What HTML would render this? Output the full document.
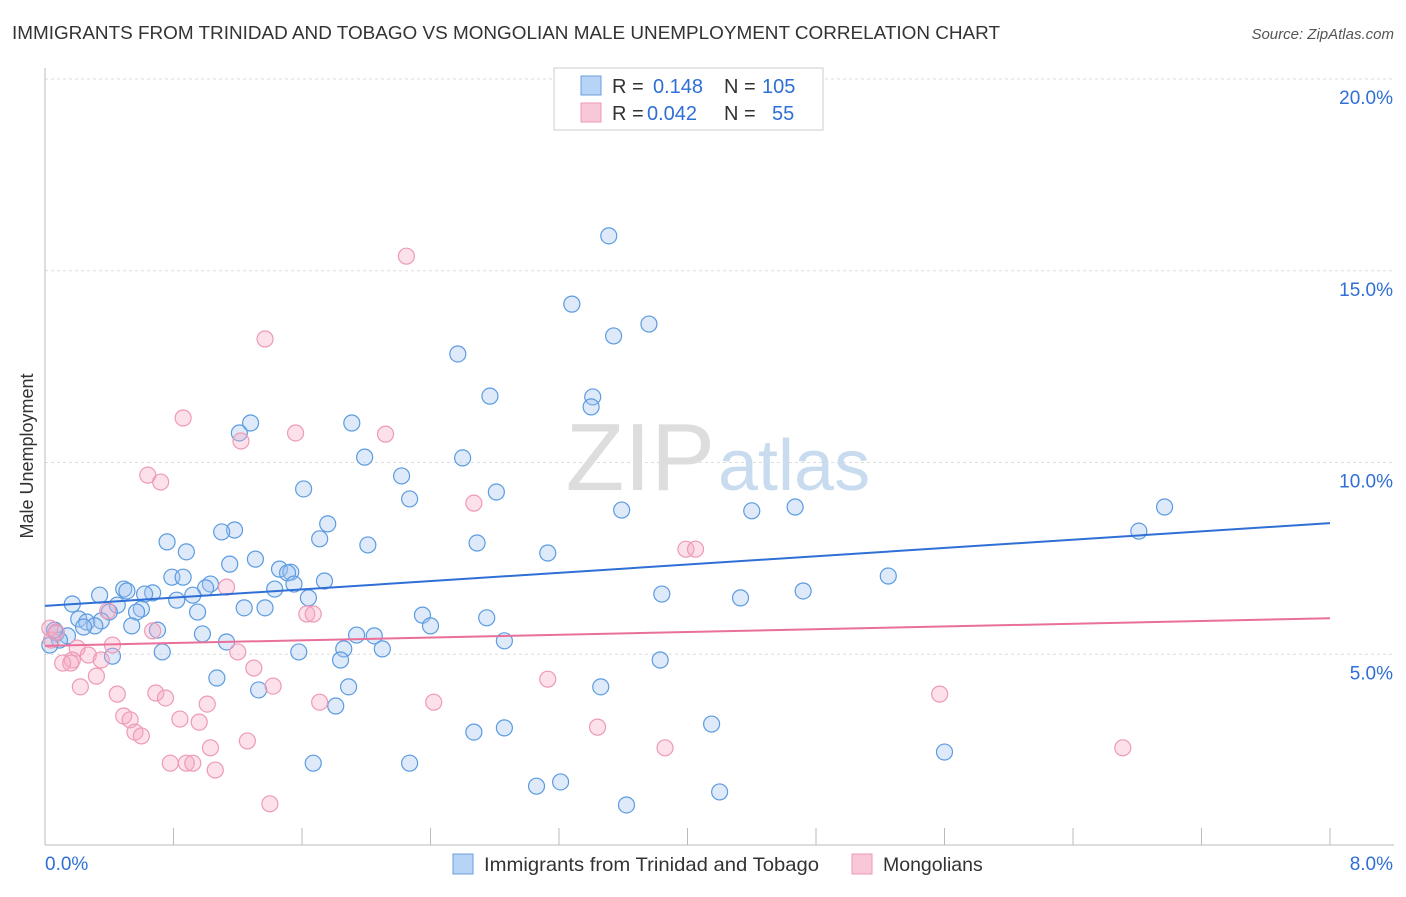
<!DOCTYPE html>
<html><head><meta charset="utf-8"><style>
body{margin:0;background:#fff;font-family:"Liberation Sans",sans-serif;}
svg text{font-family:"Liberation Sans",sans-serif;}
</style></head><body>
<svg id="chart" width="1406" height="892" xmlns="http://www.w3.org/2000/svg">
<text x="12" y="39" font-size="18.9" fill="#333" textLength="988" lengthAdjust="spacingAndGlyphs">IMMIGRANTS FROM TRINIDAD AND TOBAGO VS MONGOLIAN MALE UNEMPLOYMENT CORRELATION CHART</text>
<text x="1394" y="39" font-size="15" fill="#555" text-anchor="end" font-style="italic">Source: ZipAtlas.com</text>
<text transform="translate(33,456) rotate(-90)" font-size="18" fill="#333" text-anchor="middle">Male Unemployment</text>
<g id="grid"></g>
<text x="715" y="490" font-size="96" fill="#ddd" text-anchor="end" font-family="Liberation Serif">ZIP</text>
<text x="718" y="490" font-size="72" fill="#c9dcef">atlas</text>
<g id="points"></g>
<g id="lines"></g>
<g>
<rect x="554" y="68" width="269" height="62" fill="#fff" stroke="#ccc"/>
<rect x="581" y="76" width="20" height="19" fill="#b7d3f5" stroke="#6a9fe0"/>
<rect x="581" y="103" width="20" height="19" fill="#f9c8d8" stroke="#ee9ab5"/>
<text x="612" y="93" font-size="20" fill="#333">R = </text><text x="653" y="93" font-size="20" fill="#2f6fd6">0.148</text>
<text x="724" y="93" font-size="20" fill="#333">N = </text><text x="762" y="93" font-size="20" fill="#2f6fd6">105</text>
<text x="612" y="120" font-size="20" fill="#333">R = </text><text x="647" y="120" font-size="20" fill="#2f6fd6">0.042</text>
<text x="724" y="120" font-size="20" fill="#333">N = </text><text x="772" y="120" font-size="20" fill="#2f6fd6">55</text>
</g>
<g>
<rect x="453" y="854" width="20" height="20" fill="#b7d3f5" stroke="#6a9fe0"/>
<text x="484" y="871" font-size="19.5" fill="#333" textLength="335" lengthAdjust="spacingAndGlyphs">Immigrants from Trinidad and Tobago</text>
<rect x="852" y="854" width="20" height="20" fill="#f9c8d8" stroke="#ee9ab5"/>
<text x="883" y="871" font-size="19.5" fill="#333">Mongolians</text>
</g>
</svg>
<script>
const xTicks=[0,0.8,1.6,2.4,3.2,4,4.8,5.6,6.4,7.2,8];
const yTicks=[5,10,15,20];
const yTickLabels=["5.0%","10.0%","15.0%","20.0%"];
const xTickLabels=["0.0%","8.0%"];
const blueX=[3.51,3.28,3.54,3.76,2.57,2.77,3.41,3.40,1.91,1.28,1.21,1.99,2.60,2.22,1.61,2.81,2.27,3.59,4.40,4.67,6.97,6.81,1.76,1.18,1.10,0.76,1.71,2.69,2.01,0.88,3.13,1.31,1.15,1.46,1.53,0.79,0.86,1.51,1.74,1.55,1.03,1.00,0.49,0.51,0.67,0.62,0.34,0.92,1.43,1.64,5.25,3.84,4.33,4.72,0.17,0.45,0.60,0.57,0.40,1.24,1.37,0.95,0.82,2.35,2.75,2.40,0.21,0.26,0.35,0.31,0.54,0.24,0.70,0.98,1.94,2.05,0.14,0.07,0.09,1.13,2.86,1.86,2.10,0.73,0.42,1.58,1.84,3.83,1.07,3.46,1.33,1.89,1.81,4.15,2.67,2.86,1.67,2.27,5.60,3.06,3.21,4.20,3.62,0.06,0.03];
const blueY=[15.91,14.13,13.30,13.61,12.83,11.73,11.71,11.45,11.03,11.03,10.77,10.14,10.12,9.65,9.31,9.23,9.05,8.76,8.74,8.84,8.84,8.21,8.40,8.24,8.19,7.93,8.01,7.90,7.85,7.67,7.64,7.48,7.35,7.22,7.14,7.01,7.01,7.12,6.91,6.83,6.83,6.73,6.70,6.65,6.60,6.57,6.54,6.54,6.70,6.47,7.04,6.57,6.47,6.65,6.31,6.28,6.18,6.10,6.10,6.21,6.21,6.10,6.41,6.02,5.95,5.74,5.92,5.84,5.87,5.74,5.74,5.71,5.63,5.53,5.50,5.48,5.48,5.55,5.37,5.32,5.35,5.14,5.14,5.06,4.95,5.06,4.85,4.85,4.38,4.15,4.07,4.15,3.65,3.18,2.97,3.08,2.16,2.16,2.45,1.56,1.67,1.41,1.07,5.63,5.24];
const pinkX=[2.25,1.37,0.86,1.56,2.12,1.22,0.64,0.72,2.67,3.99,4.05,1.13,1.63,1.67,0.39,0.67,0.03,0.04,0.42,0.20,0.17,0.27,0.35,0.11,0.16,1.20,1.30,0.32,0.22,1.42,0.45,0.69,0.75,1.01,1.71,2.42,3.13,5.57,0.49,0.53,0.84,0.96,0.56,0.60,1.26,1.03,3.86,6.71,3.44,0.78,0.88,0.92,1.06,1.40,0.07];
const pinkY=[15.38,13.22,11.16,10.77,10.74,10.56,9.67,9.49,8.94,7.74,7.74,6.75,6.05,6.05,6.13,5.61,5.68,5.37,5.24,5.16,4.85,4.98,4.85,4.77,4.77,5.06,4.64,4.43,4.15,4.17,3.96,3.99,3.86,3.70,3.75,3.75,4.35,3.96,3.39,3.29,3.31,3.23,2.97,2.87,2.74,2.56,2.56,2.56,3.10,2.16,2.16,2.16,1.98,1.10,5.58];
const blueTrend=[6.26,8.42];
const pinkTrend=[5.22,5.94];
const NS="http://www.w3.org/2000/svg";
const sx=v=>45+v/8*1285;
const sy=v=>846-v*38.35;
function mk(tag,attrs,parent){const e=document.createElementNS(NS,tag);for(const k in attrs)e.setAttribute(k,attrs[k]);parent.appendChild(e);return e;}
const grid=document.getElementById('grid');
yTicks.forEach((t,i)=>{
  const l=mk('line',{x1:45,x2:1394,y1:sy(t),y2:sy(t),stroke:'#ddd','stroke-dasharray':'3,3'},grid);
  
  
  const tx=mk('text',{x:1393,y:sy(t)+25,'font-size':19,fill:'#2f6fd6','text-anchor':'end'},grid);
  tx.textContent=yTickLabels[i];
  
  
});
let a=mk('line',{x1:45,x2:45,y1:68,y2:845,stroke:'#bbb'},grid);


a=mk('line',{x1:45,x2:1394,y1:845,y2:845,stroke:'#bbb'},grid);


xTicks.forEach(t=>{
  const l=mk('line',{x1:sx(t),x2:sx(t),y1:828,y2:845,stroke:'#bbb'},grid);
  
  
});
let t0=mk('text',{x:45,y:870,'font-size':19,fill:'#2f6fd6'},grid);t0.textContent=xTickLabels[0];


let t1=mk('text',{x:1393,y:870,'font-size':19,fill:'#2f6fd6','text-anchor':'end'},grid);t1.textContent=xTickLabels[1];


const pts=document.getElementById('points');
blueX.forEach((x,i)=>{
  const c=mk('circle',{cx:sx(x),cy:sy(blueY[i]),r:8,fill:'rgba(160,196,240,0.35)',stroke:'#5b9be0','stroke-width':1.2},pts);
  
  
});
pinkX.forEach((x,i)=>{
  const c=mk('circle',{cx:sx(x),cy:sy(pinkY[i]),r:8,fill:'rgba(245,170,195,0.35)',stroke:'#ee9ab5','stroke-width':1.2},pts);
  
  
});
const ln=document.getElementById('lines');
let bl=mk('line',{x1:sx(0),y1:sy(blueTrend[0]),x2:sx(8),y2:sy(blueTrend[1]),stroke:'#2f6fd6','stroke-width':2},ln);


let pl=mk('line',{x1:sx(0),y1:sy(pinkTrend[0]),x2:sx(8),y2:sy(pinkTrend[1]),stroke:'#e8709a','stroke-width':2},ln);


</script>
</body></html>
